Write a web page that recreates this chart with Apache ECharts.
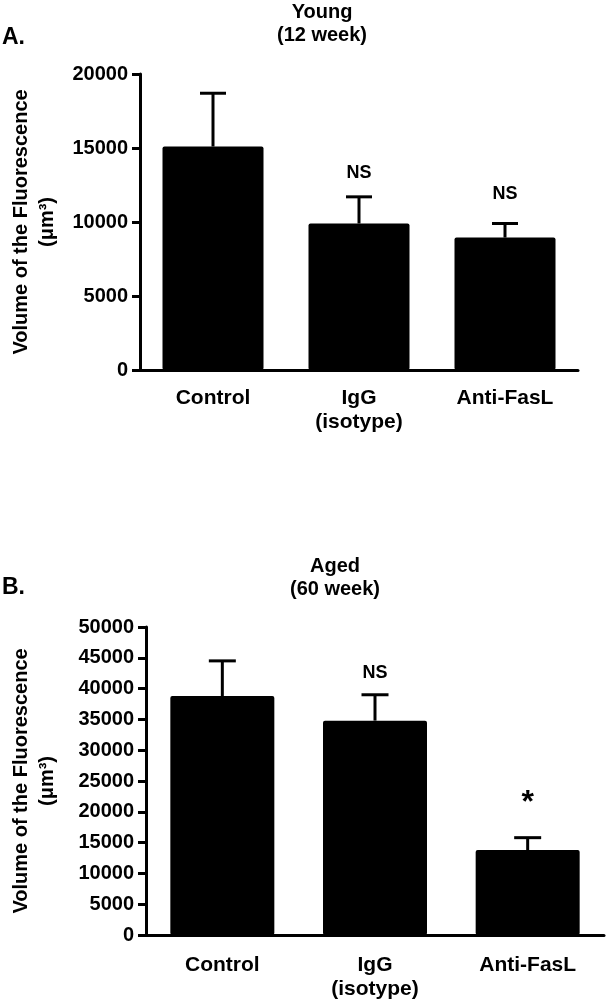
<!DOCTYPE html>
<html>
<head>
<meta charset="utf-8">
<script src="https://cdn.jsdelivr.net/npm/echarts@6/dist/echarts.min.js"></script>
<style>
html,body{margin:0;padding:0;background:#fff;}
#chart{width:608px;height:1003px;}
</style>
</head>
<body>
<div id="chart"></div>
<script>
// ---- data ----
var categories = ['Control', 'IgG\n(isotype)', 'Anti-FasL'];
var youngMean = [15100, 9900, 8950];
var youngErr = [3600, 1800, 950];
var agedMean = [38800, 34800, 13800];
var agedErr = [5700, 4200, 2000];
var youngMarkText = ['', 'NS', 'NS'];
var youngMarkY = [null, 13300, 11900];
var agedMarkText = ['', 'NS', '*'];
var agedMarkY = [null, 42500, 21400];
var youngTicks = [0, 5000, 10000, 15000, 20000];
var agedTicks = [0, 5000, 10000, 15000, 20000, 25000, 30000, 35000, 40000, 45000, 50000];

var FONT = '"Liberation Sans", Arial, Helvetica, sans-serif';

function errRender(capW) {
  return function (params, api) {
    var x = api.value(0), m = api.value(1), e = api.value(2);
    var p0 = api.coord([x, m]);
    var p1 = api.coord([x, m + e]);
    return {
      type: 'group',
      children: [
        {type: 'line', shape: {x1: p0[0], y1: p0[1], x2: p1[0], y2: p1[1]}, style: {stroke: '#000', lineWidth: 3}},
        {type: 'line', shape: {x1: p1[0] - capW / 2, y1: p1[1], x2: p1[0] + capW / 2, y2: p1[1]}, style: {stroke: '#000', lineWidth: 3}}
      ]
    };
  };
}

function errData(mean, err) {
  return mean.map(function (m, i) { return [i, m, err[i]]; });
}
function markData(ys, txt) {
  var out = [];
  ys.forEach(function (y, i) { if (y !== null) out.push([i, y, txt[i]]); });
  return out;
}

function yAxisCfg(gridIndex, ticks, gap) {
  return {
    type: 'value', gridIndex: gridIndex,
    min: ticks[0], max: ticks[ticks.length - 1], interval: ticks[1] - ticks[0],
    name: 'Volume of the Fluorescence\n(\u03bcm\u00b3)',
    nameLocation: 'middle', nameGap: gap, nameRotate: 90,
    nameTextStyle: {color: '#000', fontFamily: FONT, fontWeight: 'bold', fontSize: 20, lineHeight: 26},
    axisLine: {show: true, lineStyle: {color: '#000', width: 3}},
    axisTick: {show: true, length: 8, lineStyle: {color: '#000', width: 3}},
    axisLabel: {color: '#000', fontFamily: FONT, fontWeight: 'bold', fontSize: 20, margin: 12,
      formatter: function (v) { return String(v); }},
    splitLine: {show: false}
  };
}
function xAxisCfg(gridIndex, margin) {
  return {
    type: 'category', gridIndex: gridIndex, data: categories,
    axisLine: {show: true, lineStyle: {color: '#000', width: 3}},
    axisTick: {show: false},
    axisLabel: {color: '#000', fontFamily: FONT, fontWeight: 'bold', fontSize: 21, lineHeight: 24, margin: margin, interval: 0}
  };
}
function markLabel(size) {
  return {show: true, position: 'inside', formatter: function (p) { return p.value[2]; },
    color: '#000', opacity: 1, fontFamily: FONT, fontWeight: 'bold', fontSize: size,
    textBorderWidth: 0, textBorderColor: 'transparent'};
}
var markItemStyle = {color: '#000', opacity: 1};

var chart = echarts.init(document.getElementById('chart'), null, {renderer: 'canvas'});
chart.setOption({
  animation: false,
  backgroundColor: '#fff',
  grid: [
    {left: 136, right: 30, top: 74, height: 296},
    {left: 142, right: 4, top: 627, height: 308}
  ],
  xAxis: [xAxisCfg(0, 16), xAxisCfg(1, 18)],
  yAxis: [yAxisCfg(0, youngTicks, 80), yAxisCfg(1, agedTicks, 86)],
  graphic: [
    {type: 'text', left: 2, top: 26, style: {text: 'A.', font: 'bold 23px ' + FONT, fill: '#000'}},
    {type: 'text', x: 322, y: 12, style: {text: 'Young', font: 'bold 20px ' + FONT, fill: '#000', textAlign: 'center', textVerticalAlign: 'middle'}},
    {type: 'text', x: 322, y: 35, style: {text: '(12 week)', font: 'bold 20px ' + FONT, fill: '#000', textAlign: 'center', textVerticalAlign: 'middle'}},
    {type: 'text', left: 2, top: 576, style: {text: 'B.', font: 'bold 23px ' + FONT, fill: '#000'}},
    {type: 'text', x: 335, y: 566, style: {text: 'Aged', font: 'bold 20px ' + FONT, fill: '#000', textAlign: 'center', textVerticalAlign: 'middle'}},
    {type: 'text', x: 335, y: 589, style: {text: '(60 week)', font: 'bold 20px ' + FONT, fill: '#000', textAlign: 'center', textVerticalAlign: 'middle'}}
  ],
  series: [
    {type: 'bar', xAxisIndex: 0, yAxisIndex: 0, data: youngMean, barWidth: 101,
     itemStyle: {color: '#000', borderRadius: 2}},
    {type: 'custom', xAxisIndex: 0, yAxisIndex: 0, data: errData(youngMean, youngErr),
     renderItem: errRender(26), z: 3},
    {type: 'scatter', xAxisIndex: 0, yAxisIndex: 0, data: markData(youngMarkY, youngMarkText),
     symbolSize: 0, itemStyle: markItemStyle, label: markLabel(18)},
    {type: 'bar', xAxisIndex: 1, yAxisIndex: 1, data: agedMean, barWidth: 104,
     itemStyle: {color: '#000', borderRadius: 2}},
    {type: 'custom', xAxisIndex: 1, yAxisIndex: 1, data: errData(agedMean, agedErr),
     renderItem: errRender(27), z: 3},
    {type: 'scatter', xAxisIndex: 1, yAxisIndex: 1, data: markData(agedMarkY, agedMarkText).slice(0, 1),
     symbolSize: 0, itemStyle: markItemStyle, label: markLabel(18)},
    {type: 'scatter', xAxisIndex: 1, yAxisIndex: 1, data: markData(agedMarkY, agedMarkText).slice(1),
     symbolSize: 0, itemStyle: markItemStyle, label: markLabel(32)}
  ]
});
</script>
</body>
</html>
